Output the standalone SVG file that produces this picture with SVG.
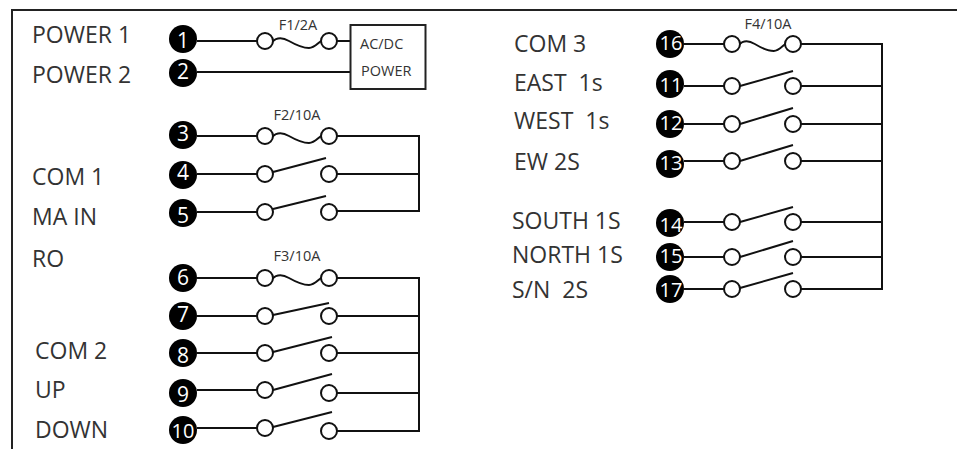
<svg xmlns="http://www.w3.org/2000/svg" width="957" height="449" viewBox="0 0 957 449">
<style>
text{font-family:"Open Sans","Noto Sans","Liberation Sans",sans-serif;fill:#333;white-space:pre}
.l{font-size:23px}
.s{font-size:14.500px}
.n{font-size:20px;fill:#fff;text-anchor:middle}
.b{font-size:21px}
.d{fill:#000}
.w{fill:none;stroke:#111;stroke-width:2}
.c{fill:#fff;stroke:#111;stroke-width:2}
</style>
<defs>
<g id="fuse"><path class="w" d="M7 1C12-4 17-4 24 0S38 7 44 7C49 7 52 3 56 0"/></g>
</defs>
<rect width="957" height="449" fill="#fff"/>
<path d="M12 449V10H957" fill="none" stroke="#222" stroke-width="2"/>
<g id="connectors">
<path class="w" d="M197 41H257M337 41H350M197 72H350"/>
<path class="w" d="M197 136H257M337 136H419V211H337M197 174H257M337 174H419M197 212H257"/>
<path class="w" d="M197 278H257M337 278H419V431H337M197 316H257M337 316H419M197 353H257M337 353H419M197 390H257M337 393H419M197 428H257"/>
<path class="w" d="M273 172L326 158M273 209L326 196M273 315L329 303M273 352L332 337M273 390L332 374M273 427L332 412"/>
<path class="w" d="M684 44H724M801 44H882V289H801M684 86H724M801 86H882M684 124H724M801 124H882M684 161H724M801 161H882M684 222H724M801 222H882M684 257H724M801 257H882M684 289H724"/>
<path class="w" d="M740 86L793 71M740 124L793 108M740 161L793 145M740 222L793 207M740 257L793 241M740 288L793 273"/>
<use href="#fuse" x="265" y="41"/><use href="#fuse" x="265" y="136"/><use href="#fuse" x="265" y="278"/><use href="#fuse" transform="translate(732 44) scale(.95 1)"/>
</g>
<g id="small-contacts">
<circle class="c" cx="265" cy="41" r="8"/><circle class="c" cx="329" cy="41" r="8"/>
<circle class="c" cx="265" cy="136" r="8"/><circle class="c" cx="329" cy="136" r="8"/>
<circle class="c" cx="265" cy="174" r="8"/><circle class="c" cx="329" cy="174" r="8"/>
<circle class="c" cx="265" cy="212" r="8"/><circle class="c" cx="329" cy="212" r="8"/>
<circle class="c" cx="265" cy="278" r="8"/><circle class="c" cx="329" cy="278" r="8"/>
<circle class="c" cx="265" cy="316" r="8"/><circle class="c" cx="329" cy="316" r="8"/>
<circle class="c" cx="265" cy="353" r="8"/><circle class="c" cx="329" cy="353" r="8"/>
<circle class="c" cx="265" cy="390" r="8"/><circle class="c" cx="329" cy="393" r="8"/>
<circle class="c" cx="265" cy="428" r="8"/><circle class="c" cx="329" cy="431" r="8"/>
<circle class="c" cx="732" cy="44" r="8"/><circle class="c" cx="793" cy="44" r="8"/>
<circle class="c" cx="732" cy="86" r="8"/><circle class="c" cx="793" cy="86" r="8"/>
<circle class="c" cx="732" cy="124" r="8"/><circle class="c" cx="793" cy="124" r="8"/>
<circle class="c" cx="732" cy="161" r="8"/><circle class="c" cx="793" cy="161" r="8"/>
<circle class="c" cx="732" cy="222" r="8"/><circle class="c" cx="793" cy="222" r="8"/>
<circle class="c" cx="732" cy="257" r="8"/><circle class="c" cx="793" cy="257" r="8"/>
<circle class="c" cx="732" cy="289" r="8"/><circle class="c" cx="793" cy="289" r="8"/>
</g>
<g id="power-box"><rect x="350.500" y="25" width="75" height="64" fill="none" stroke="#222" stroke-width="2"/><text class="s" x="360" y="49">AC/DC</text><text class="s" x="361" y="76">POWER</text></g>
<g id="n1"><circle class="d" cx="183" cy="39" r="14"/><text class="n b" x="183" y="48">1</text></g>
<g id="n2"><circle class="d" cx="183" cy="73" r="14"/><text class="n b" x="183" y="79">2</text></g>
<g id="n3"><circle class="d" cx="183" cy="135" r="14"/><text class="n b" x="183" y="141">3</text></g>
<g id="n4"><circle class="d" cx="183" cy="175" r="14"/><text class="n b" x="183" y="180">4</text></g>
<g id="n5"><circle class="d" cx="183" cy="213" r="14"/><text class="n b" x="183" y="223">5</text></g>
<g id="n6"><circle class="d" cx="183" cy="278" r="14"/><text class="n b" x="183" y="285">6</text></g>
<g id="n7"><circle class="d" cx="183" cy="316" r="14"/><text class="n b" x="183" y="322">7</text></g>
<g id="n8"><circle class="d" cx="183" cy="353" r="14"/><text class="n b" x="183" y="363">8</text></g>
<g id="n9"><circle class="d" cx="183" cy="393" r="14"/><text class="n b" x="183" y="402">9</text></g>
<g id="n10"><circle class="d" cx="183" cy="430" r="14"/><text class="n" x="183" y="438">10</text></g>
<g id="n16"><circle class="d" cx="670" cy="44" r="14"/><text class="n" x="671" y="50">16</text></g>
<g id="n11"><circle class="d" cx="670" cy="84" r="14"/><text class="n" x="671" y="92">11</text></g>
<g id="n12"><circle class="d" cx="670" cy="124" r="14"/><text class="n" x="671" y="130">12</text></g>
<g id="n13"><circle class="d" cx="670" cy="164" r="14"/><text class="n" x="671" y="170">13</text></g>
<g id="n14"><circle class="d" cx="670" cy="223" r="14"/><text class="n" x="671" y="232">14</text></g>
<g id="n15"><circle class="d" cx="670" cy="257" r="14"/><text class="n" x="671" y="263">15</text></g>
<g id="n17"><circle class="d" cx="670" cy="289" r="14"/><text class="n" x="671" y="297">17</text></g>
<g id="labels">
<text class="s" x="298" y="30" text-anchor="middle">F1/2A</text>
<text class="s" x="297" y="120" text-anchor="middle">F2/10A</text>
<text class="s" x="297" y="261" text-anchor="middle">F3/10A</text>
<text class="s" x="768" y="29" text-anchor="middle">F4/10A</text>
<text class="l" x="32" y="43">POWER 1</text>
<text class="l" x="32" y="83">POWER 2</text>
<text class="l" x="32" y="185">COM 1</text>
<text class="l" x="32" y="225">MA IN</text>
<text class="l" x="32" y="267">RO</text>
<text class="l" x="35" y="359">COM 2</text>
<text class="l" x="35" y="398">UP</text>
<text class="l" x="35" y="438">DOWN</text>
<text class="l" x="514" y="52">COM 3</text>
<text class="l" x="514" y="91">EAST  1s</text>
<text class="l" x="514" y="129">WEST  1s</text>
<text class="l" x="514" y="170">EW 2S</text>
<text class="l" x="512" y="229">SOUTH 1S</text>
<text class="l" x="512" y="263">NORTH 1S</text>
<text class="l" x="512" y="298">S/N  2S</text>
</g>
</svg>
